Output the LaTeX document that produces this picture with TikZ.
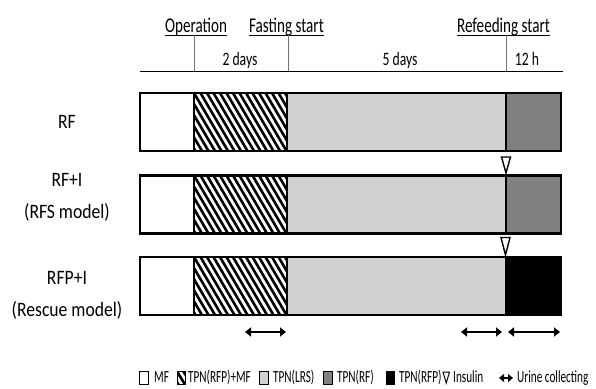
\documentclass[tikz,border=0pt]{standalone}
\usepackage{fontspec}
\setmainfont{Carlito}
\newfontfamily\hdrfont[FakeStretch=0.72]{Carlito}
\newfontfamily\perfont[FakeStretch=0.72]{Carlito}
\newfontfamily\lblfont[FakeStretch=0.86]{Carlito}
\newfontfamily\legfont[FakeStretch=0.66]{Carlito}
\usetikzlibrary{arrows.meta}
\definecolor{lgray}{HTML}{D0CFD1}
\definecolor{dgray}{HTML}{808080}
\begin{document}
\begin{tikzpicture}[x=1pt,y=-1pt,
  hdr/.style={font=\hdrfont\fontsize{21}{24}\selectfont, inner sep=0pt, anchor=base},
  per/.style={font=\perfont\fontsize{19}{22}\selectfont, inner sep=0pt, anchor=base},
  lbl/.style={font=\lblfont\fontsize{20.5}{24}\selectfont, inner sep=0pt, anchor=base},
  leg/.style={font=\legfont\fontsize{17}{19}\selectfont, inner sep=0pt, anchor=base west},
  seg/.style={draw=black, line width=1.6pt},
  frame/.style={draw=black, line width=2.4pt},
  ins/.style={draw=black, fill=white, line width=1.4pt, line join=miter},
  tick/.style={draw=black!55, line width=1pt},
  urine/.style={line width=1.6pt, {Triangle[length=6pt,width=9pt]}-{Triangle[length=6pt,width=9pt]}},
  legbox/.style={draw=black, line width=1pt},
]
\useasboundingbox (0,0) rectangle (596,388);

% header
\node[hdr] (op) at (196,32) {Operation};
\node[hdr] (fs) at (286.5,32) {Fasting start};
\node[hdr] (rs) at (503.5,32) {Refeeding start};
\foreach \n in {op,fs,rs}
  \draw[line width=1pt] ([yshift=-3pt]\n.base west) -- ([yshift=-3pt]\n.base east);
\coordinate (t0) at (140,71);
\coordinate (t1) at (563,71);
\draw[tick] (194,35) -- (194,71);
\draw[tick] (288,35) -- (288,71);
\draw[tick] (506,35) -- (506,71);
\draw[line width=1pt] (t0) -- (t1);
\node[per] (d2) at (240,65) {2 days};
\node[per] (d5) at (400,65) {5 days};
\node[per] (h12) at (527,65) {12 h};

% row labels
\node[lbl] (l1) at (67,128) {RF};
\node[lbl] (l2a) at (67,186) {RF+I};
\node[lbl] (l2b) at (67,218) {(RFS model)};
\node[lbl] (l3a) at (67,284) {RFP+I};
\node[lbl] (l3b) at (67,316) {(Rescue model)};

% bars
\foreach \t/\c in {93/dgray,175.5/dgray,257/black} {
  \fill[white] (140,\t) rectangle (194,\t+58);
  \fill[lgray] (287,\t) rectangle (506,\t+58);
  \fill[\c] (506,\t) rectangle (561,\t+58);
  \begin{scope}
    \clip (194,\t) rectangle (287,\t+58);
    \foreach \k in {-7,...,15}
      \draw[line width=2.6pt] ({194+\k*6.5},\t) -- ++(34,58);
  \end{scope}
  \draw[seg] (194,\t) -- ++(0,58) (287,\t) -- ++(0,58) (506,\t) -- ++(0,58);
  \draw[frame] (140,\t) rectangle (561,\t+58);
}

% insulin markers
\draw[ins] (501.5,157) -- (510.5,157) -- (506,173) -- cycle;
\draw[ins] (501,237.5) -- (510,237.5) -- (505.5,255) -- cycle;

% urine collecting
\coordinate (u1a) at (245,332); \coordinate (u1b) at (286,332);
\coordinate (u2a) at (461,332); \coordinate (u2b) at (502,332);
\coordinate (u3a) at (508,332); \coordinate (u3b) at (560,332);
\draw[urine] (u1a) -- (u1b);
\draw[urine] (u2a) -- (u2b);
\draw[urine] (u3a) -- (u3b);

% legend
\filldraw[legbox, fill=white] (139.5,371.5) rectangle (148,384.5);
\node[leg] (gMF) at (154,382) {MF};
\fill[white] (177,371.5) rectangle (185,384.5);
\begin{scope}
  \clip (177,371.5) rectangle (185,384.5);
  \foreach \k in {-1,0,1}
    \draw[line width=2.6pt] ({177+\k*6.5},371.5) -- ++(8,13);
\end{scope}
\draw[legbox] (177,371.5) rectangle (185,384.5);
\node[leg] (gH) at (188,382) {TPN(RFP)+MF};
\filldraw[legbox, fill=lgray] (259,371.5) rectangle (268,384.5);
\node[leg] (gL) at (273,382) {TPN(LRS)};
\filldraw[legbox, fill=dgray] (323,371.5) rectangle (332,384.5);
\node[leg] (gR) at (337,382) {TPN(RF)};
\filldraw[legbox, fill=black] (386,371.5) rectangle (394,384.5);
\node[leg] (gP) at (399,382) {TPN(RFP)};
\draw[line width=1pt, line join=miter] (443,372) -- (449.5,372) -- (446.25,383) -- cycle;
\node[leg] (gI) at (453,382) {Insulin};
\coordinate (ga) at (499,378); \coordinate (gb) at (513,378);
\draw[line width=2pt, {Triangle[length=5pt,width=8pt]}-{Triangle[length=5pt,width=8pt]}] (ga) -- (gb);
\node[leg] (gU) at (517,382) {Urine collecting};
\end{tikzpicture}
\end{document}
